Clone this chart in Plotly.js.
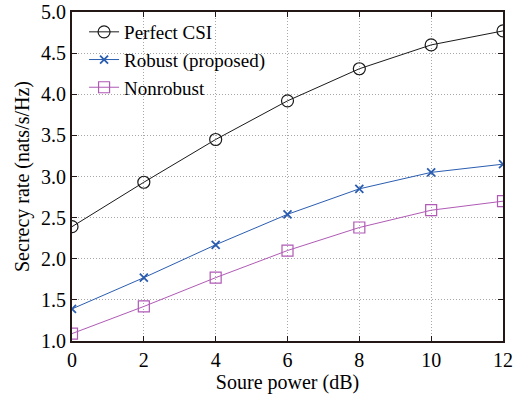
<!DOCTYPE html>
<html><head><meta charset="utf-8">
<script src="https://cdn.plot.ly/plotly-3.0.1.min.js"></script>
<style>body{margin:0;}#c{width:517px;height:397px;}</style>
</head><body><div id="c"></div>
<script>
const power = [0, 2, 4, 6, 8, 10, 12];
const perfectCSI = [2.39, 2.93, 3.45, 3.92, 4.31, 4.60, 4.77];
const robust = [1.39, 1.77, 2.17, 2.54, 2.85, 3.05, 3.15];
const nonrobust = [1.09, 1.42, 1.77, 2.10, 2.38, 2.59, 2.70];
const xTicks = [0, 2, 4, 6, 8, 10, 12];
const yTicks = [1.0, 1.5, 2.0, 2.5, 3.0, 3.5, 4.0, 4.5, 5.0];

const serif = 'Liberation Serif, Times New Roman, serif';

const traces = [
  {x: power, y: perfectCSI, name: 'Perfect CSI', mode: 'lines+markers',
   line: {color: '#1a1a1a', width: 1},
   marker: {symbol: 'circle-open', size: 12, color: '#1a1a1a', line: {width: 1.2}}},
  {x: power, y: robust, name: 'Robust (proposed)', mode: 'lines+markers',
   line: {color: '#2a5db0', width: 1},
   marker: {symbol: 'x-thin-open', size: 8, color: '#2a5db0', line: {width: 1.8}}},
  {x: power, y: nonrobust, name: 'Nonrobust', mode: 'lines+markers',
   line: {color: '#b05ab5', width: 1},
   marker: {symbol: 'square-open', size: 11, color: '#b05ab5', line: {width: 1.2}}}
];

const axisCommon = {
  showline: true, linecolor: '#231815', linewidth: 2, mirror: 'ticks',
  ticks: 'inside', ticklen: 5, tickcolor: '#231815',
  showgrid: true, gridcolor: '#a8a8a8', griddash: '1px,2px', gridwidth: 1,
  zeroline: false,
  tickfont: {family: serif, size: 20, color: '#000'}
};

const layout = {
  width: 517, height: 397,
  margin: {l: 72, r: 14, t: 12, b: 56},
  paper_bgcolor: '#fff', plot_bgcolor: '#fff',
  font: {family: serif, color: '#000'},
  showlegend: true,
  legend: {x: 0.028, y: 0.997, xanchor: 'left', yanchor: 'top',
    bgcolor: 'rgba(255,255,255,0)', borderwidth: 0,
    font: {family: serif, size: 19, color: '#000'},
    tracegroupgap: 0},
  shapes: [{type: 'rect', xref: 'paper', yref: 'paper', layer: 'between',
    x0: 0.004, x1: 0.54, y0: 0.755, y1: 0.996,
    fillcolor: '#fff', line: {width: 0}}],
  xaxis: Object.assign({}, axisCommon, {
    range: [0, 12], tickvals: xTicks, ticktext: xTicks.map(String),
    title: {text: 'Soure power (dB)', font: {family: serif, size: 20}, standoff: 2}
  }),
  yaxis: Object.assign({}, axisCommon, {
    range: [1, 5], tickvals: yTicks, ticktext: yTicks.map(v => v.toFixed(1)),
    title: {text: 'Secrecy rate (nats/s/Hz)', font: {family: serif, size: 20}, standoff: 6}
  })
};

Plotly.newPlot('c', traces, layout, {displayModeBar: false, staticPlot: true});
</script>
</body></html>
